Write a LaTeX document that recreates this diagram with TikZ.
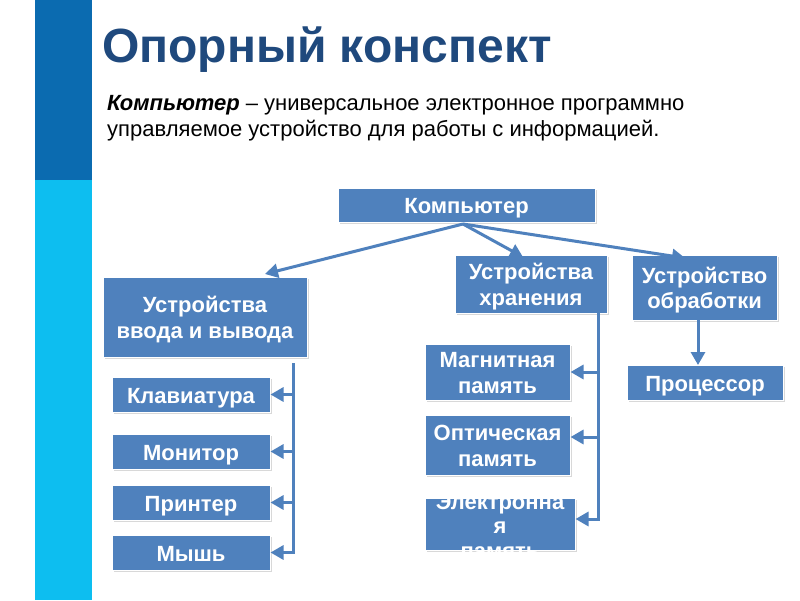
\documentclass[tikz,border=0pt]{standalone}
\usepackage{fontspec}
\setmainfont{Liberation Sans}
\usetikzlibrary{arrows.meta,shadows}
\definecolor{boxblue}{RGB}{79,129,189}
\definecolor{titleblue}{RGB}{31,73,125}
\definecolor{bardark}{RGB}{11,107,176}
\definecolor{barlight}{RGB}{13,190,240}
\newcommand\bxt[1]{\raisebox{-3.5pt}[\height][\depth]{\setlength\tabcolsep{0pt}\begin{tabular}{c}#1\end{tabular}}}
\tikzset{
  box/.style={fill=boxblue, draw=white, line width=1pt, text=white,
    font=\bfseries\fontsize{22}{25.5}\selectfont, inner sep=0pt,
    drop shadow={shadow xshift=2pt, shadow yshift=-2pt, fill=black!25, opacity=0.6}},
  conn/.style={draw=boxblue, line width=3pt},
  arr/.style={conn, -{Triangle[length=13pt,width=14pt]}},
}
\begin{document}
\begin{tikzpicture}[x=1pt,y=-1pt]
\useasboundingbox (0,0) rectangle (800,600);
\fill[white] (0,0) rectangle (800,600);
\fill[bardark] (35,0) rectangle (92,180);
\fill[barlight] (35,180) rectangle (92,600);
\node[anchor=base west, text=titleblue, font=\bfseries\fontsize{48}{56}\selectfont, inner sep=0pt] (title) at (102,62) {Опорный конспект};
\node[anchor=north west, align=left, font=\fontsize{22}{26}\selectfont, inner sep=0pt] (def) at (107,95)
  {\textbf{\textit{Компьютер}} – универсальное электронное программно\\управляемое устройство для работы с информацией.};

\node[box, minimum width=257pt, minimum height=34pt] (k) at (466.5,205) {\bxt{Компьютер}};
\node[box, minimum width=152pt, minimum height=58pt] (st) at (531,284) {\bxt{Устройства\\хранения}};
\node[box, minimum width=145pt, minimum height=65pt] (pr) at (704.5,287.5) {\bxt{Устройство\\обработки}};
\node[box, minimum width=204pt, minimum height=80pt] (io) at (205,317) {\bxt{Устройства\\ввода и вывода}};
\node[box, minimum width=158pt, minimum height=35pt] (kb) at (191,394.5) {\bxt{Клавиатура}};
\node[box, minimum width=158pt, minimum height=35pt] (mon) at (191,451.5) {\bxt{Монитор}};
\node[box, minimum width=158pt, minimum height=35pt] (prn) at (191,502.5) {\bxt{Принтер}};
\node[box, minimum width=158pt, minimum height=35pt] (ms) at (191,552.5) {\bxt{Мышь}};
\node[box, minimum width=145pt, minimum height=56pt] (mag) at (497.5,372) {\bxt{Магнитная\\память}};
\node[box, minimum width=145pt, minimum height=60pt] (opt) at (497.5,445) {\bxt{Оптическая\\память}};
\node[box, minimum width=150pt, minimum height=52pt] (el) at (500,524) {};
\node[text=white, font=\bfseries\fontsize{22}{24.5}\selectfont, align=center, inner sep=0pt] (eltext) at (500,526)
  {Электронна\\я\\память};
\node[box, minimum width=156pt, minimum height=35pt] (cpu) at (705,382.5) {\bxt{Процессор}};

% top arrows
\coordinate (ks) at (463,224);
\coordinate (ioin) at (265,274);
\coordinate (stin) at (523,257);
\coordinate (prin) at (685,258);
\draw[arr] (ks) -- (ioin);
\draw[arr] (ks) -- (stin);
\draw[arr] (ks) -- (prin);

% io bus
\coordinate (iotop) at (293,363);
\coordinate (iobot) at (293,552.5);
\draw[conn] (iotop) -- (iobot);
\foreach \n/\y in {kb/394.5, mon/451.5, prn/502.5, ms/552.5}{
  \draw[arr] (294.5,\y) -- (\n.east);
}
% storage bus
\coordinate (sttop) at (598,313);
\coordinate (stbot) at (598,519);
\draw[conn] (sttop) -- (stbot);
\draw[arr] (599.5,372) -- (mag.east);
\draw[arr] (599.5,437) -- (opt.east |- 0,437);
\draw[arr] (599.5,519) -- (el.east |- 0,519);
% processor
\coordinate (prbot) at (698,320);
\draw[arr] (prbot) -- (698,365);
\end{tikzpicture}
\end{document}
